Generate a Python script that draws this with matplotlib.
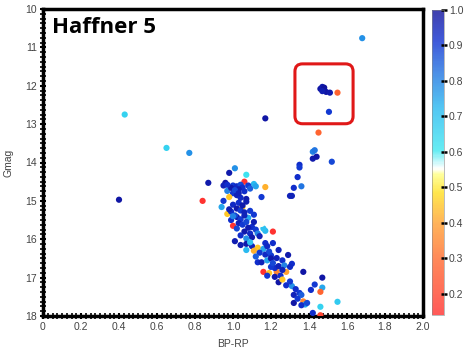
import matplotlib
matplotlib.use("Agg")
import matplotlib.pyplot as plt
from matplotlib.colors import LinearSegmentedColormap
from matplotlib.patches import FancyBboxPatch
from matplotlib.ticker import MultipleLocator

plt.rcParams["font.family"] = ["Liberation Sans", "DejaVu Sans"]

# colour (BP-RP), magnitude (Gmag) and membership probability of each star
bp = [
    1.68, 1.46, 1.47, 1.48, 1.49, 1.51, 1.47, 1.55, 1.505, 0.43,
    1.17, 1.45, 0.65, 0.77, 1.42, 1.43, 1.42, 1.44, 1.52, 1.35,
    1.35, 1.34, 1.32, 1.36, 1.30, 1.31, 0.40, 0.84, 0.87,
    # upper main sequence
    1.01, 0.98, 1.07, 0.96, 0.95, 1.06, 1.11, 1.12, 1.17, 0.97,
    1.00, 1.02, 1.04, 1.05, 1.08, 1.09, 1.03, 1.06, 1.00, 1.02,
    0.98, 1.04, 1.07, 0.95, 1.15, 1.07, 0.99, 1.01, 1.03, 0.97,
    # 15.0 - 15.5
    0.94, 0.97, 1.05, 1.00, 1.02, 1.04, 0.99, 1.06, 1.11, 0.99,
    1.02, 1.08, 1.04, 1.01, 1.06, 0.98, 1.03, 1.00, 1.05, 1.09,
    # 15.5 - 16.0
    1.00, 1.21, 1.17, 1.16, 1.10, 1.03, 1.05, 1.07, 1.08, 1.12,
    1.06, 1.09, 1.13, 1.14, 1.10, 1.02, 1.15, 1.04, 1.11, 1.07,
    # 16.0 - 16.5
    1.04, 1.07, 1.10, 1.17, 1.21, 1.13, 1.07, 1.11, 1.16, 1.14,
    1.17, 1.20, 1.23, 1.29, 1.13, 1.15, 1.18, 1.26, 1.31, 1.20,
    1.12, 1.18, 1.01, 1.09, 1.19, 1.24,
    # 16.5 - 17.0
    1.16, 1.19, 1.23, 1.28, 1.37, 1.22, 1.24, 1.20, 1.18, 1.22,
    1.25, 1.27, 1.30, 1.21, 1.26,
    # 17.0 - 17.5
    1.47, 1.24, 1.26, 1.28, 1.31, 1.43, 1.41, 1.47, 1.46, 1.30,
    1.33, 1.35, 1.32, 1.36,
    # 17.5 - 18.0
    1.32, 1.37, 1.38, 1.39, 1.55, 1.46, 1.42, 1.34, 1.36, 1.46,
]
gmag = [
    10.76, 12.08, 12.03, 12.05, 12.16, 12.18, 12.14, 12.18, 12.68, 12.75,
    12.85, 13.22, 13.62, 13.75, 13.72, 13.68, 13.90, 13.85, 13.98, 14.06,
    14.13, 14.38, 14.66, 14.62, 14.87, 14.87, 14.97, 15.00, 14.53,
    14.15, 14.27, 14.32, 14.53, 14.60, 14.50, 14.56, 14.62, 14.64, 14.74,
    14.60, 14.62, 14.58, 14.65, 14.60, 14.68, 14.70, 14.75, 14.80, 14.85,
    14.90, 14.92, 14.95, 15.00, 14.90, 15.02, 14.66, 14.72, 14.80, 14.58,
    15.16, 15.34, 15.16, 15.10, 15.20, 15.25, 15.28, 15.30, 15.36, 15.50,
    15.42, 15.44, 15.48, 15.38, 15.38, 15.22, 15.05, 15.40, 15.12, 15.26,
    15.65, 15.80, 15.78, 15.72, 15.68, 15.58, 15.62, 15.55, 15.70, 15.75,
    15.80, 15.85, 15.85, 15.92, 15.95, 15.72, 15.60, 15.90, 15.55, 15.98,
    16.15, 16.12, 16.18, 16.10, 16.10, 16.22, 16.28, 16.30, 16.25, 16.35,
    16.40, 16.42, 16.49, 16.41, 16.60, 16.60, 16.55, 16.55, 16.64, 16.50,
    16.45, 16.18, 16.05, 16.08, 16.32, 16.28,
    16.85, 16.88, 16.85, 16.85, 16.85, 16.75, 16.70, 16.72, 16.95, 16.98,
    16.95, 16.68, 16.72, 16.62, 16.80,
    17.00, 17.12, 17.05, 17.20, 17.22, 17.18, 17.32, 17.26, 17.37, 17.10,
    17.30, 17.40, 17.45, 17.45,
    17.66, 17.62, 17.70, 17.66, 17.63, 17.76, 17.92, 17.55, 17.72, 17.98,
]
prob = [
    0.78, 0.98, 0.97, 0.99, 0.98, 0.97, 0.96, 0.28, 0.90, 0.66,
    0.98, 0.28, 0.66, 0.78, 0.80, 0.82, 0.97, 0.98, 0.88, 0.92,
    0.90, 0.92, 0.92, 0.82, 0.95, 0.95, 0.98, 0.15, 0.97,
    0.78, 0.97, 0.62, 0.98, 0.95, 0.15, 0.72, 0.75, 0.42, 0.80,
    0.90, 0.93, 0.88, 0.92, 0.90, 0.85, 0.96, 0.92, 0.90, 0.95,
    0.45, 0.93, 0.97, 0.90, 0.90, 0.96, 0.97, 0.88, 0.95, 0.92,
    0.75, 0.45, 0.45, 0.93, 0.97, 0.90, 0.92, 0.95, 0.90, 0.92,
    0.97, 0.75, 0.90, 0.88, 0.95, 0.96, 0.92, 0.80, 0.97, 0.90,
    0.15, 0.15, 0.72, 0.70, 0.92, 0.95, 0.90, 0.88, 0.96, 0.90,
    0.97, 0.93, 0.80, 0.95, 0.97, 0.88, 0.55, 0.92, 0.96, 0.78,
    0.96, 0.97, 0.95, 0.92, 0.92, 0.45, 0.72, 0.42, 0.75, 0.90,
    0.93, 0.90, 0.95, 0.97, 0.92, 0.95, 0.75, 0.92, 0.92, 0.97,
    0.85, 0.93, 0.96, 0.70, 0.88, 0.95,
    0.15, 0.45, 0.35, 0.40, 0.98, 0.92, 0.95, 0.90, 0.90, 0.97,
    0.92, 0.80, 0.93, 0.88, 0.95,
    0.98, 0.98, 0.45, 0.92, 0.78, 0.90, 0.92, 0.75, 0.28, 0.90,
    0.92, 0.90, 0.95, 0.85,
    0.98, 0.35, 0.75, 0.88, 0.68, 0.66, 0.92, 0.90, 0.92, 0.20,
]

cbar_ticks = [0.2, 0.3, 0.4, 0.5, 0.6, 0.7, 0.8, 0.9, 1.0]

cmap = LinearSegmentedColormap.from_list("memb", [
    (0.00, "#ff3030"), (0.18, "#ff6a30"), (0.30, "#ffa030"),
    (0.40, "#ffe020"), (0.46, "#ffff80"), (0.48, "#ffffff"),
    (0.54, "#40e8f0"), (0.68, "#28b8f0"), (0.80, "#2070e0"),
    (0.90, "#1030d0"), (1.00, "#10109a")])

fig = plt.figure(figsize=(4.66, 3.48), dpi=100)
ax = fig.add_axes([43 / 466, 1 - 316 / 348, 380 / 466, 307 / 348])

sc = ax.scatter(bp, gmag, c=prob, cmap=cmap, vmin=0.14, vmax=1.0,
                s=20, linewidths=0, zorder=3)

ax.set_xlim(0, 2.0)
ax.set_ylim(18, 10)
ax.xaxis.set_major_locator(MultipleLocator(0.2))
ax.xaxis.set_minor_locator(MultipleLocator(0.025))
ax.yaxis.set_major_locator(MultipleLocator(1))
ax.yaxis.set_minor_locator(MultipleLocator(0.125))
ax.set_xticks([0, 0.2, 0.4, 0.6, 0.8, 1.0, 1.2, 1.4, 1.6, 1.8, 2.0])
ax.set_xticklabels(["0", "0.2", "0.4", "0.6", "0.8", "1.0", "1.2", "1.4",
                    "1.6", "1.8", "2.0"])
ax.tick_params(which="major", direction="inout", length=5, width=1.5,
               labelsize=7.5, labelcolor="#444444", pad=2)
ax.tick_params(which="minor", direction="inout", length=4, width=1.2)
for s in ax.spines.values():
    s.set_linewidth(2.5)

ax.set_xlabel("BP-RP", fontsize=7.5, color="#444444", labelpad=5)
ax.set_ylabel("Gmag", fontsize=7.5, color="#444444", labelpad=8)

ax.text(0.025, 0.975, "Haffner 5", transform=ax.transAxes, ha="left", va="top",
        fontsize=16, fontweight="bold", family="Open Sans")

# rounded box around the red clump candidates
box = FancyBboxPatch((1.326, 11.43), 0.306, 1.56,
                     boxstyle="round,pad=0,rounding_size=0.04",
                     mutation_aspect=4.95, fill=False, edgecolor="#e01818",
                     linewidth=2.2, zorder=4)
ax.add_patch(box)

cax = fig.add_axes([432 / 466, 1 - 315 / 348, 12 / 466, 305 / 348])
cb = fig.colorbar(sc, cax=cax, ticks=cbar_ticks)
cb.solids.set_alpha(0.8)
cb.outline.set_linewidth(0.4)
cb.outline.set_edgecolor("#888888")
cb.ax.tick_params(direction="inout", length=5, width=1.8, labelsize=7.5,
                  labelcolor="#444444", pad=1)

fig.savefig("out.png", dpi=100)
